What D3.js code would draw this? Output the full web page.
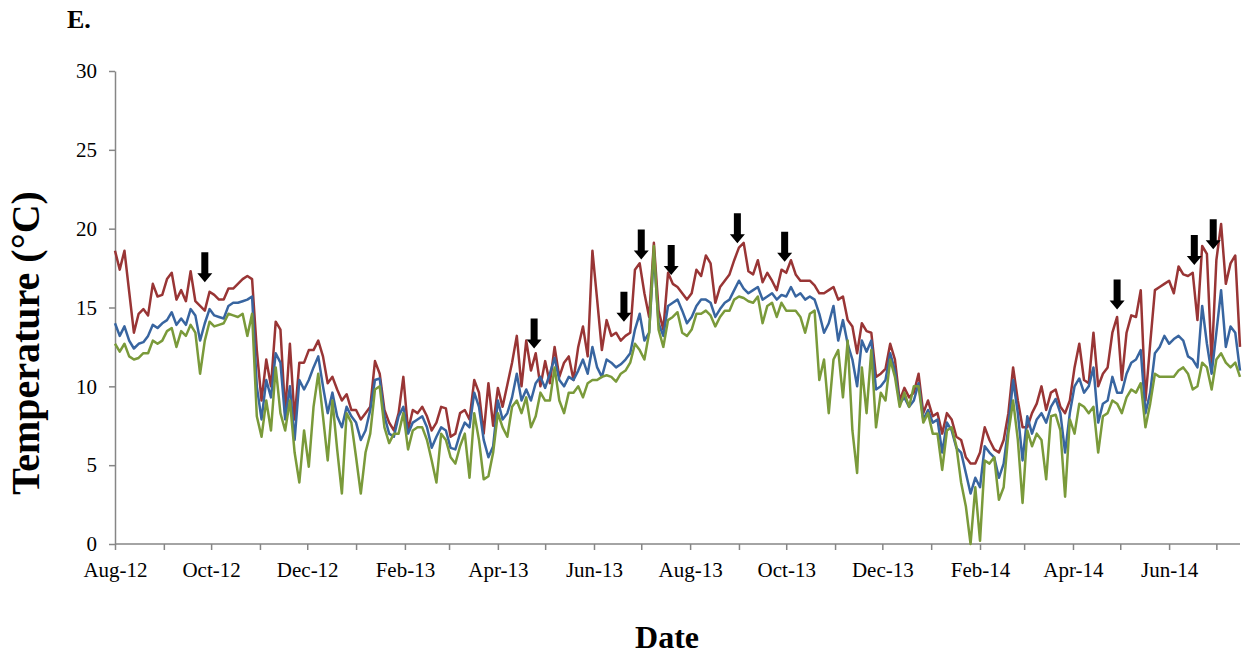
<!DOCTYPE html>
<html>
<head>
<meta charset="utf-8">
<script src="https://cdn.jsdelivr.net/npm/d3@7"></script>
<style>
  body { margin: 0; background: #fff; }
  text { font-family: "Liberation Serif", "Times New Roman", serif; }
</style>
</head>
<body>
<script>
// one reading every 3 days, starting 1 Aug 2012
const startDate = new Date(2012, 7, 1)
const endDate = new Date(2014, 6, 16)
const stepDays = 3

const redSeries = [
  18.6, 17.4, 18.6, 16.0, 13.4, 14.6, 14.9, 14.5, 16.5, 15.7,
  15.8, 16.8, 17.2, 15.5, 16.1, 15.4, 17.3, 15.4, 15.1, 14.8,
  16.0, 15.8, 15.5, 15.5, 16.2, 16.2, 16.5, 16.8, 17.0, 16.8,
  12.3, 9.1, 11.7, 10.0, 14.1, 13.6, 8.3, 12.7, 7.9, 11.5,
  11.5, 12.3, 12.3, 12.9, 11.9, 10.2, 10.6, 9.8, 9.1, 9.5,
  8.5, 8.5, 7.9, 8.3, 8.7, 11.6, 10.8, 8.5, 7.7, 7.2,
  8.3, 10.6, 7.2, 8.5, 8.3, 8.7, 8.1, 7.2, 7.7, 8.7,
  8.6, 6.8, 7.0, 8.3, 8.5, 7.9, 10.4, 9.6, 7.0, 10.2,
  7.5, 9.9, 8.7, 10.1, 11.5, 13.2, 10.0, 12.9, 11.0, 12.1,
  10.0, 11.6, 10.2, 12.5, 10.6, 11.5, 11.9, 10.4, 12.5, 13.8,
  11.9, 18.6, 15.5, 12.3, 14.2, 13.2, 13.4, 12.9, 13.2, 13.4,
  17.4, 17.8, 15.9, 14.4, 19.1, 14.8, 13.6, 17.2, 16.5, 16.3,
  15.9, 15.5, 15.9, 17.4, 17.0, 18.3, 17.8, 15.3, 16.3, 16.7,
  17.1, 18.0, 18.8, 19.1, 17.3, 17.1, 18.0, 16.6, 17.2, 16.7,
  16.1, 17.4, 17.2, 18.0, 17.1, 16.7, 16.7, 16.7, 16.4, 15.9,
  15.9, 16.1, 16.3, 15.5, 15.7, 14.2, 13.8, 12.1, 14.0, 13.5,
  13.4, 10.6, 10.8, 11.1, 12.7, 11.7, 9.1, 9.9, 9.3, 9.6,
  10.8, 8.3, 9.1, 8.1, 8.3, 7.0, 8.3, 7.9, 6.8, 6.6,
  5.5, 5.1, 5.1, 5.8, 7.4, 6.6, 6.0, 5.8, 6.6, 8.3,
  11.2, 9.1, 7.4, 7.4, 8.3, 8.9, 10.0, 8.5, 9.6, 9.8,
  8.7, 8.3, 9.1, 11.2, 12.7, 10.4, 10.2, 13.4, 10.0, 10.8,
  11.2, 13.4, 14.4, 10.4, 13.4, 14.5, 14.4, 16.1, 9.1, 12.7,
  16.1, 16.3, 16.5, 16.7, 15.9, 17.6, 17.1, 17.0, 17.2, 14.2,
  18.9, 18.4, 11.5, 18.0, 20.3, 16.5, 17.8, 18.3, 12.5
]

const blueSeries = [
  14.0, 13.2, 13.8, 12.9, 12.4, 12.7, 12.8, 13.2, 13.9, 13.7,
  14.0, 14.2, 14.7, 13.9, 14.3, 13.9, 14.9, 14.5, 12.9, 14.0,
  14.9, 14.5, 14.4, 14.3, 15.1, 15.3, 15.3, 15.4, 15.5, 15.7,
  10.0, 7.9, 10.4, 9.3, 12.1, 11.5, 7.9, 10.0, 6.6, 10.4,
  9.8, 10.4, 11.2, 11.9, 10.0, 8.3, 9.6, 8.1, 7.4, 8.7,
  8.1, 7.7, 6.6, 7.2, 8.5, 10.4, 10.5, 8.1, 7.0, 6.8,
  8.1, 8.7, 7.0, 7.7, 7.9, 8.1, 7.4, 6.1, 6.8, 7.4,
  7.2, 6.1, 6.0, 7.0, 7.7, 7.4, 9.6, 8.7, 6.6, 5.5,
  6.2, 9.1, 7.9, 8.3, 9.3, 10.8, 9.1, 9.8, 9.1, 10.2,
  10.6, 9.9, 10.8, 11.8, 10.4, 10.0, 10.6, 10.4, 11.0, 11.7,
  10.8, 12.5, 11.2, 10.6, 11.7, 11.5, 11.2, 11.4, 11.7, 12.1,
  13.6, 14.6, 12.9, 13.4, 18.4, 14.0, 13.2, 15.1, 15.3, 15.5,
  14.8, 14.0, 14.4, 15.1, 15.5, 15.5, 15.3, 14.4, 14.9, 15.3,
  15.5, 16.1, 16.7, 16.2, 15.9, 16.1, 16.3, 15.5, 15.7, 15.9,
  15.5, 15.8, 15.7, 16.3, 15.7, 15.9, 15.5, 15.7, 15.5, 14.6,
  13.4, 14.0, 15.1, 12.9, 14.2, 12.7, 11.7, 10.0, 12.9, 12.2,
  12.9, 9.8, 10.0, 10.4, 12.1, 11.0, 8.9, 9.3, 8.7, 9.1,
  10.2, 7.9, 8.5, 7.7, 7.9, 5.8, 7.7, 7.2, 6.1, 5.8,
  4.5, 3.2, 4.2, 3.6, 6.2, 5.8, 5.5, 4.2, 5.1, 7.4,
  10.4, 8.3, 5.3, 8.1, 7.0, 7.9, 8.3, 7.7, 8.7, 9.2,
  8.3, 5.8, 8.3, 10.0, 10.5, 9.6, 10.0, 11.2, 7.7, 8.9,
  9.1, 10.6, 9.6, 9.6, 10.8, 11.5, 11.7, 12.3, 8.3, 9.6,
  12.1, 12.5, 13.2, 12.7, 13.0, 13.2, 12.9, 11.9, 11.7, 11.2,
  15.1, 12.7, 10.8, 13.4, 16.1, 12.5, 13.8, 13.4, 11.0
]

const greenSeries = [
  12.7, 12.2, 12.7, 11.9, 11.7, 11.8, 12.1, 12.1, 12.9, 12.7,
  12.9, 13.5, 13.7, 12.5, 13.5, 13.2, 13.9, 13.4, 10.8, 12.9,
  14.1, 13.8, 13.9, 14.0, 14.6, 14.5, 14.4, 14.6, 13.2, 14.6,
  8.1, 6.8, 9.1, 7.2, 11.2, 8.3, 7.2, 9.1, 5.8, 3.9,
  7.2, 4.9, 8.7, 10.8, 8.1, 5.3, 9.1, 6.0, 3.2, 8.3,
  7.7, 5.5, 3.2, 5.8, 7.0, 9.8, 10.0, 7.4, 6.4, 7.0,
  7.0, 8.3, 6.0, 7.2, 7.4, 7.4, 6.6, 5.3, 3.9, 7.0,
  6.6, 5.5, 5.1, 6.2, 7.0, 4.2, 8.3, 6.6, 4.1, 4.3,
  5.8, 8.3, 7.4, 6.8, 8.7, 9.1, 8.3, 9.3, 7.4, 8.1,
  9.6, 9.1, 9.1, 11.2, 9.1, 8.3, 9.6, 9.6, 10.0, 9.3,
  10.2, 10.4, 10.4, 10.6, 10.7, 10.6, 10.3, 10.8, 11.0, 11.5,
  12.7, 12.3, 11.7, 13.4, 18.9, 13.6, 12.5, 14.2, 14.4, 14.7,
  13.4, 13.2, 13.6, 14.6, 14.6, 14.8, 14.5, 13.8, 14.4, 14.8,
  14.8, 15.5, 15.7, 15.6, 15.4, 15.3, 15.7, 14.0, 15.1, 15.3,
  14.4, 15.3, 14.8, 14.8, 14.8, 14.4, 13.4, 14.6, 14.8, 10.4,
  11.7, 8.3, 11.7, 12.3, 9.3, 12.9, 7.2, 4.5, 11.2, 8.3,
  12.3, 7.4, 9.6, 9.1, 11.7, 10.6, 8.7, 9.6, 8.7, 10.0,
  10.0, 7.7, 8.3, 7.0, 7.0, 4.7, 7.2, 7.4, 6.2, 3.9,
  2.4, 0.0, 3.6, 0.2, 5.3, 5.1, 5.5, 2.8, 3.6, 7.0,
  9.1, 6.6, 2.6, 7.2, 6.2, 7.0, 6.6, 4.1, 8.1, 8.2,
  7.2, 3.0, 7.9, 7.0, 8.9, 8.7, 8.3, 8.7, 5.8, 8.1,
  8.3, 9.1, 8.9, 8.3, 9.3, 9.8, 9.6, 10.2, 7.4, 8.9,
  10.8, 10.6, 10.6, 10.6, 10.6, 11.0, 11.2, 10.8, 9.8, 10.0,
  11.5, 11.2, 9.8, 11.7, 12.1, 11.5, 11.2, 11.5, 10.6
]

// arrows: date and temperature of the arrow tip
const arrowDates = ["2012-09-27", "2013-04-24", "2013-06-20", "2013-07-01", "2013-07-20",
                    "2013-08-31", "2013-09-30", "2014-04-29", "2014-06-17", "2014-06-29"]
const arrowValues = [16.6, 12.4, 14.1, 18.05, 17.06, 19.07, 17.9, 14.88, 17.69, 18.69]

const yTicks = [0, 5, 10, 15, 20, 25, 30]
const labelMonths = [7, 9, 11, 1, 3, 5] // Aug, Oct, Dec, Feb, Apr, Jun

const width = 1246, height = 657
const plotLeft = 115, plotRight = 1240, plotTop = 71, plotBottom = 544

const svg = d3.select("body").append("svg")
  .attr("width", width).attr("height", height)

const x = d3.scaleTime().domain([startDate, endDate]).range([plotLeft, plotRight])
const y = d3.scaleLinear().domain([0, 30]).range([plotBottom, plotTop])

const dates = redSeries.map((v, i) => d3.timeDay.offset(startDate, i * stepDays))
const parse = d3.timeParse("%Y-%m-%d")

//y axis
const yAxis = svg.append("g")
  .attr("transform", `translate(${plotLeft},0)`)
  .call(d3.axisLeft(y).tickValues(yTicks).tickSize(6).tickSizeOuter(0).tickPadding(12))
yAxis.select(".domain").attr("stroke", "#868686").attr("stroke-width", 1.5)
yAxis.selectAll(".tick line").attr("stroke", "#868686").attr("stroke-width", 1.5)
yAxis.selectAll(".tick text").attr("font-size", 21).attr("fill", "#000")
  .style("font-family", "'Liberation Serif', serif")

//x axis, a tick every month and a label every second month
const fmt = d3.timeFormat("%b-%y")
const xAxis = svg.append("g")
  .attr("transform", `translate(0,${plotBottom})`)
  .call(d3.axisBottom(x).ticks(d3.timeMonth.every(1)).tickSize(6).tickSizeOuter(0).tickPadding(12)
    .tickFormat(d => labelMonths.includes(d.getMonth()) ? fmt(d) : ""))
xAxis.select(".domain").attr("stroke", "#868686").attr("stroke-width", 1.5)
  .attr("d", `M${plotLeft},0H${plotRight}`)
xAxis.selectAll(".tick line").attr("stroke", "#868686").attr("stroke-width", 1.5)
xAxis.selectAll(".tick text").attr("font-size", 21).attr("fill", "#000")
  .style("font-family", "'Liberation Serif', serif")

//lines
const line = d3.line()
  .x((d, i) => x(dates[i]))
  .y(d => y(d))

const series = [
  { values: redSeries, color: "#993535" },
  { values: blueSeries, color: "#3865a0" },
  { values: greenSeries, color: "#7a9a3a" }
]
svg.selectAll(".series").data(series).enter()
  .append("path")
  .attr("class", "series")
  .attr("d", d => line(d.values))
  .attr("fill", "none")
  .attr("stroke", d => d.color)
  .attr("stroke-width", 2.5)
  .attr("stroke-linejoin", "round")

//arrows pointing down at the marked days
svg.selectAll(".arrow").data(arrowDates).enter()
  .append("path")
  .attr("class", "arrow")
  .attr("transform", (d, i) => `translate(${x(parse(d))},${y(arrowValues[i])})`)
  .attr("d", "M0,0L-7.5,-9L-3.5,-9L-3.5,-30L3.5,-30L3.5,-9L7.5,-9Z")
  .attr("fill", "#000")

//titles
svg.append("text")
  .attr("x", 67).attr("y", 28)
  .attr("font-size", 26).attr("font-weight", "bold")
  .text("E.")

svg.append("text")
  .attr("transform", "translate(39,343) rotate(-90)")
  .attr("text-anchor", "middle")
  .attr("font-size", 40).attr("font-weight", "bold")
  .text("Temperature (°C)")

svg.append("text")
  .attr("x", 667).attr("y", 648)
  .attr("text-anchor", "middle")
  .attr("font-size", 32).attr("font-weight", "bold")
  .text("Date")
</script>
</body>
</html>
